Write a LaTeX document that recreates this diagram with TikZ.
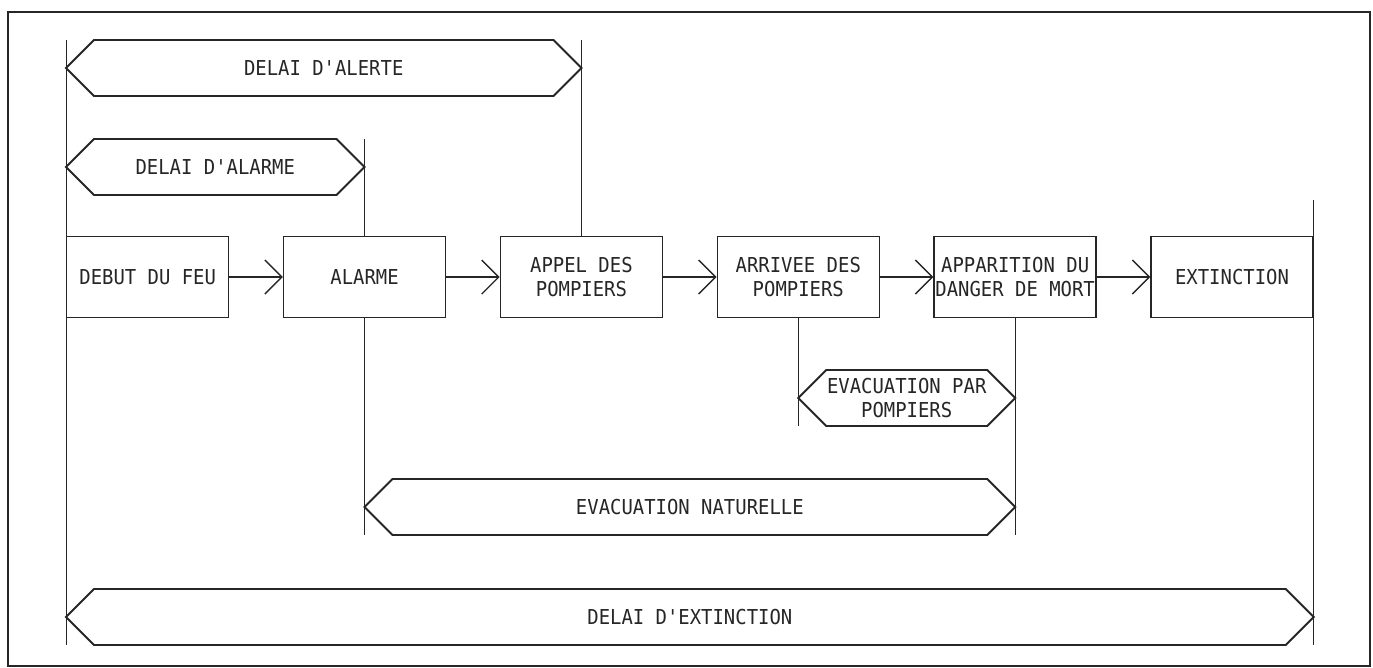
\documentclass[tikz,border=0pt]{standalone}
\usepackage{fontspec}
\setmonofont[FakeStretch=0.92]{DejaVu Sans Mono}
\usetikzlibrary{arrows.meta,positioning,calc}

% bande hexagonale entre deux reperes : nom, gauche, droite, texte
\newcommand{\bande}[4]{%
  \draw[bande] (#2) -- ++(28,-28) -- ($(#3)+(-28,-28)$) -- (#3)
    -- ++(-28,28) -- ($(#2)+(28,28)$) -- cycle;
  \node[texte] (#1) at ($(#2)!0.5!(#3)$) {#4};}

\begin{document}
\begin{tikzpicture}[
  x=0.02cm, y=-0.02cm,
  node distance=10.7mm,
  texte/.style={align=center, inner sep=0pt, font=\ttfamily\fontsize{11.7}{13.6}\selectfont, text=black!85},
  etape/.style={texte, draw=black!85, line width=0.8pt, minimum width=32.4mm, minimum height=16.2mm},
  bande/.style={draw=black!85, line width=1.1pt, line join=miter},
  trait/.style={draw=black!85, line width=0.5pt},
  fleche/.style={-{Straight Barb[length=3.4mm, width=6.8mm]}, draw=black!85, line width=0.8pt}
]
\useasboundingbox (0,0) rectangle (1373,667);
\draw[trait, line width=0.6pt] (8,12) rectangle (1370,666);

\node[etape, anchor=west] (debut) at (66,277) {DEBUT DU FEU};
\node[etape, right=of debut] (alarme) {ALARME};
\node[etape, right=of alarme] (appel) {APPEL DES\\POMPIERS};
\node[etape, right=of appel] (arrivee) {ARRIVEE DES\\POMPIERS};
\node[etape, right=of arrivee] (apparition) {APPARITION DU\\DANGER DE MORT};
\node[etape, right=of apparition] (extinction) {EXTINCTION};

\draw[fleche] (debut) -- (alarme);
\draw[fleche] (alarme) -- (appel);
\draw[fleche] (appel) -- (arrivee);
\draw[fleche] (arrivee) -- (apparition);
\draw[fleche] (apparition) -- (extinction);

% reperes verticaux
\draw[trait] (debut.west |- 0,40) -- (debut.west |- 0,645);
\draw[trait] (appel.north |- 0,40) -- (appel.north);
\draw[trait] (alarme.north |- 0,139) -- (alarme.north);
\draw[trait] (alarme.south) -- (alarme.south |- 0,535);
\draw[trait] (arrivee.south) -- (arrivee.south |- 0,426);
\draw[trait] (apparition.south) -- (apparition.south |- 0,535);
\draw[trait] (extinction.east |- 0,200) -- (extinction.east |- 0,645);

% delais
\coordinate (g1) at (debut.west |- 0,68);
\coordinate (d1) at (appel.north |- 0,68);
\coordinate (g2) at (debut.west |- 0,167);
\coordinate (d2) at (alarme.north |- 0,167);
\coordinate (g3) at (arrivee.south |- 0,398);
\coordinate (d3) at (apparition.south |- 0,398);
\coordinate (g4) at (alarme.south |- 0,507);
\coordinate (d4) at (apparition.south |- 0,507);
\coordinate (g5) at (debut.west |- 0,617);
\coordinate (d5) at (extinction.east |- 0,617);

\bande{alerte}{g1}{d1}{DELAI D'ALERTE}
\bande{alarmedelai}{g2}{d2}{DELAI D'ALARME}
\bande{evacpompiers}{g3}{d3}{EVACUATION PAR\\POMPIERS}
\bande{evacnaturelle}{g4}{d4}{EVACUATION NATURELLE}
\bande{delaiext}{g5}{d5}{DELAI D'EXTINCTION}
\end{tikzpicture}
\end{document}
